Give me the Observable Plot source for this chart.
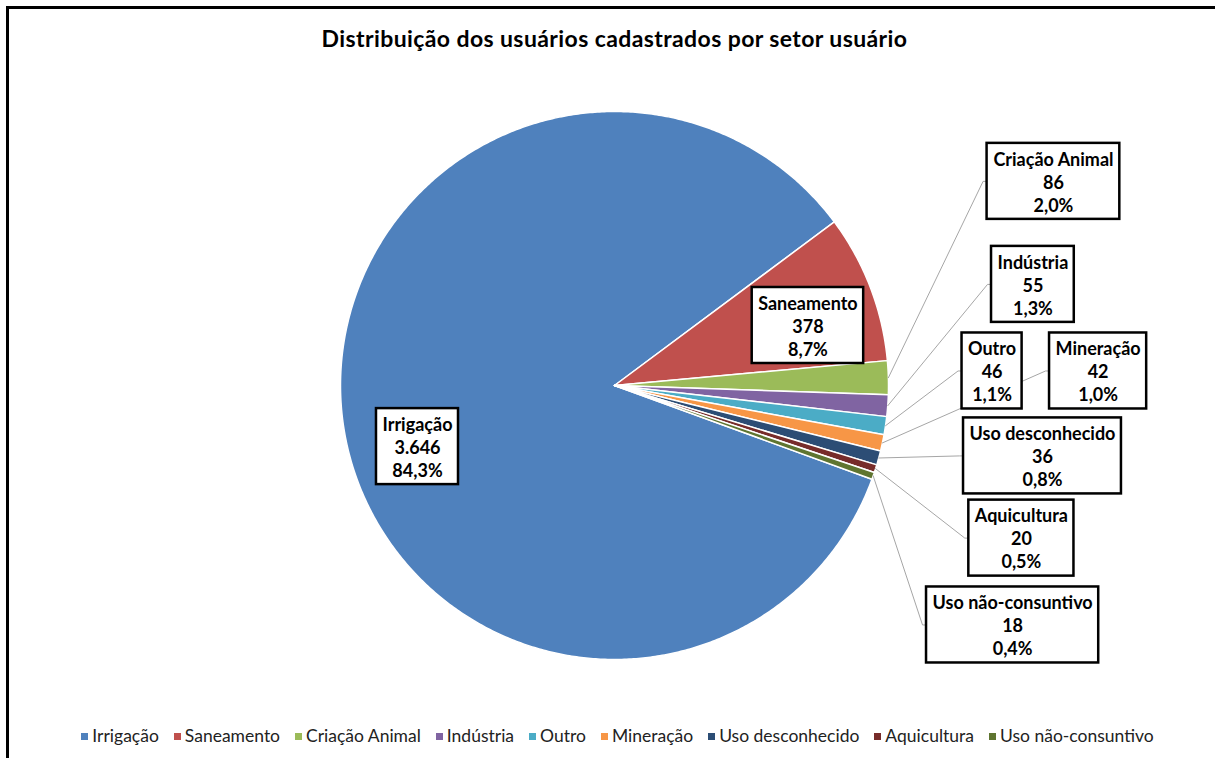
<!DOCTYPE html>
<html>
<head>
<meta charset="utf-8">
<script src="https://cdn.jsdelivr.net/npm/d3@7"></script>
<script src="https://cdn.jsdelivr.net/npm/@observablehq/plot@0.6"></script>
<style>
  html, body { margin: 0; padding: 0; background: #fff; }
  body { width: 1215px; height: 758px; overflow: hidden; position: relative; font-family: Lato, "Open Sans", sans-serif; }
  #frame { position: absolute; left: 6px; top: 6px; width: 1400px; height: 1000px; border: 3px solid #000; box-sizing: border-box; }
  #title { position: absolute; left: 7px; top: 24px; width: 1215px; text-align: center; font-weight: bold; font-size: 23px; letter-spacing: 0.4px; line-height: 28px; color: #000; }
  #chart { position: absolute; left: 0; top: 60px; }
  #legend { position: absolute; left: 10px; top: 725px; width: 1215px; display: flex; justify-content: center; align-items: center; font-size: 17.5px; line-height: 22px; color: #222; }
  .item { display: flex; align-items: center; margin-right: 15px; }
  .item:last-child { margin-right: 0; }
  .sw { width: 7px; height: 7px; margin-right: 4px; margin-top: 1px; }
</style>
</head>
<body>
<div id="frame"></div>
<div id="title">Distribuição dos usuários cadastrados por setor usuário</div>
<div id="chart"></div>
<div id="legend"></div>
<script>
// ---- data ----
const sectors = ["Irrigação", "Saneamento", "Criação Animal", "Indústria", "Outro", "Mineração", "Uso desconhecido", "Aquicultura", "Uso não-consuntivo"];
const users = [3646, 378, 86, 55, 46, 42, 36, 20, 18];
const colors = ["#4F81BD", "#C0504D", "#9BBB59", "#8064A2", "#4BACC6", "#F79646", "#2C4D75", "#772C2A", "#5F7530"];
// label anchor positions, in pie-radius units (+x right, +y up from the pie centre)
const labelX = [-0.719, 0.706, 1.602, 1.527, 1.378, 1.765, 1.562, 1.485, 1.453];
const labelY = [-0.223, 0.219, 0.745, 0.369, 0.053, 0.053, -0.257, -0.557, -0.874];
const hasLeader = [false, false, true, true, true, true, true, true, true];
const firstSliceAngle = 110; // degrees, clockwise from 12 o'clock

// ---- layout ----
const W = 1215, H = 640;
const cx = 614, cy = 325, R = 274;
const k = R; // pixels per unit
const fontSize = 18, lineH = 23;

const loc = d3.formatLocale({decimal: ",", thousands: ".", grouping: [3], currency: ["", ""]});
const fmtCount = loc.format(",d");
const fmtPct = loc.format(".1%");

const total = d3.sum(users);
const a0 = firstSliceAngle * Math.PI / 180;
const arcs = d3.pie().sort(null).startAngle(a0).endAngle(a0 + 2 * Math.PI)(users);

// slice polygons in unit coordinates
const slicePts = [];
arcs.forEach((p, i) => {
  slicePts.push({sector: sectors[i], x: 0, y: 0});
  const n = Math.max(2, Math.ceil((p.endAngle - p.startAngle) / (Math.PI / 360)));
  for (let j = 0; j <= n; j++) {
    const a = p.startAngle + (p.endAngle - p.startAngle) * j / n;
    slicePts.push({sector: sectors[i], x: Math.sin(a), y: Math.cos(a)});
  }
});

// label boxes
const ctx = document.createElement("canvas").getContext("2d");
ctx.font = `bold ${fontSize}px Lato`;
const labels = sectors.map((s, i) => {
  const lines = [s, fmtCount(users[i]), fmtPct(users[i] / total)];
  const tw = d3.max(lines, l => ctx.measureText(l).width);
  const w = (tw + 12) / k, h = (3 * lineH + 7) / k;
  return {sector: s, text: lines.join("\n"), x: labelX[i], y: labelY[i],
    x1: labelX[i] - w / 2, x2: labelX[i] + w / 2, y1: labelY[i] - h / 2, y2: labelY[i] + h / 2};
});

// leader lines
const leaderPts = [];
arcs.forEach((p, i) => {
  if (!hasLeader[i]) return;
  const m = (p.startAngle + p.endAngle) / 2;
  const L = labels[i];
  leaderPts.push({sector: sectors[i], x: Math.sin(m), y: Math.cos(m)});
  leaderPts.push({sector: sectors[i], x: L.x1 - 4 / k, y: L.y});
  leaderPts.push({sector: sectors[i], x: L.x1, y: L.y});
});

const chart = Plot.plot({
  width: W, height: H, margin: 0,
  x: {domain: [-1, 1], range: [cx - R, cx + R], axis: null},
  y: {domain: [-1, 1], range: [cy + R, cy - R], axis: null},
  color: {domain: sectors, range: colors},
  style: {background: "transparent", fontFamily: "Lato, sans-serif"},
  marks: [
    Plot.line(slicePts, {x: "x", y: "y", z: "sector", fill: "sector", stroke: "white", strokeWidth: 1.5, strokeLinejoin: "round", curve: "linear-closed"}),
    Plot.line(leaderPts, {x: "x", y: "y", z: "sector", stroke: "#A6A6A6", strokeWidth: 1}),
    Plot.rect(labels, {x1: "x1", x2: "x2", y1: "y1", y2: "y2", fill: "white", stroke: "black", strokeWidth: 2.5}),
    Plot.text(labels, {x: "x", y: "y", text: "text", fontSize: fontSize, fontWeight: "bold", lineHeight: lineH / fontSize, fill: "black", fontFamily: "Lato, sans-serif"})
  ]
});
document.getElementById("chart").appendChild(chart);

// legend
const lg = document.getElementById("legend");
sectors.forEach((s, i) => {
  const it = document.createElement("div");
  it.className = "item";
  const sw = document.createElement("span");
  sw.className = "sw";
  sw.style.background = colors[i];
  const t = document.createElement("span");
  t.textContent = s;
  it.appendChild(sw); it.appendChild(t);
  lg.appendChild(it);
});
</script>
</body>
</html>
